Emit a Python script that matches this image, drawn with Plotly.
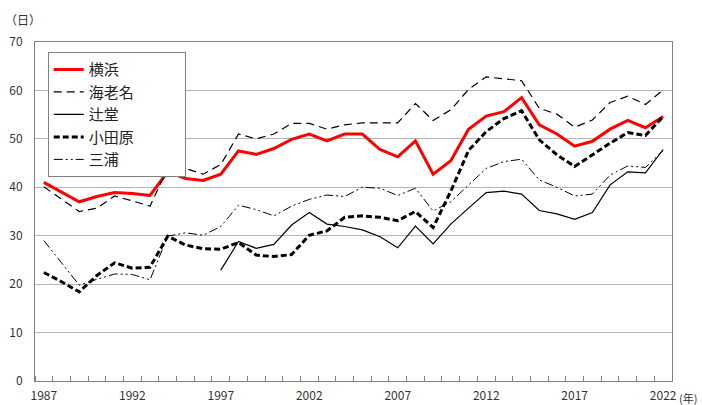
import plotly.graph_objects as go

years = list(range(1987, 2023))

yokohama = [41.0, 39.0, 37.0, 38.1, 38.9, 38.7, 38.3, 43.2, 41.8, 41.4, 42.7, 47.5,
            46.8, 48.0, 49.9, 51.0, 49.6, 51.0, 51.0, 47.8, 46.3, 49.6, 42.7, 45.5,
            52.0, 54.7, 55.6, 58.5, 52.9, 51.0, 48.5, 49.5, 52.0, 53.8, 52.3, 54.6]
ebina = [40.1, 37.5, 35.0, 35.7, 38.2, 37.2, 36.1, 43.9, 43.9, 42.7, 44.7, 51.0,
         50.0, 51.0, 53.2, 53.2, 52.0, 52.9, 53.3, 53.3, 53.3, 57.3, 53.8, 56.0,
         60.2, 62.8, 62.4, 62.0, 56.3, 55.1, 52.4, 53.9, 57.5, 58.8, 57.1, 60.1]
tsujido = [None] * 10 + [22.9, 28.8, 27.4, 28.2, 32.2, 34.8, 32.4, 31.9, 31.2, 29.8,
                         27.5, 32.0, 28.3, 32.4, 35.7, 38.9, 39.2, 38.6, 35.2, 34.5,
                         33.4, 34.8, 40.5, 43.2, 43.0, 47.8]
odawara = [22.4, 20.5, 18.4, 21.8, 24.4, 23.3, 23.5, 29.9, 28.1, 27.3, 27.2, 28.6,
           26.0, 25.7, 26.1, 30.1, 31.0, 33.8, 34.1, 33.8, 33.1, 35.0, 31.7, 39.2,
           47.6, 51.5, 54.2, 55.8, 49.8, 46.7, 44.3, 46.7, 49.1, 51.3, 50.7, 54.6]
miura = [29.0, 24.4, 19.8, 21.0, 22.1, 22.0, 20.9, 29.9, 30.6, 30.1, 31.9, 36.3,
         35.4, 34.1, 36.1, 37.5, 38.4, 38.1, 40.0, 39.8, 38.3, 39.8, 35.1, 37.0,
         40.5, 43.9, 45.3, 45.8, 41.5, 40.0, 38.2, 38.6, 42.5, 44.4, 44.1, 47.6]

tick_years = [1987, 1992, 1997, 2002, 2007, 2012, 2017, 2022]
tick_labels = [str(y) for y in tick_years]
y_ticks = [0, 10, 20, 30, 40, 50, 60, 70]

font_family = "Noto Sans CJK JP, Noto Sans, sans-serif"
pad = "\u00a0" * 18

fig = go.Figure()
fig.add_trace(go.Scatter(x=years, y=yokohama, name="横浜" + pad, mode="lines",
                         line=dict(color="#ff0000", width=3)))
fig.add_trace(go.Scatter(x=years, y=ebina, name="海老名", mode="lines",
                         line=dict(color="#000000", width=1.2, dash="8px,5px")))
fig.add_trace(go.Scatter(x=years, y=tsujido, name="辻堂", mode="lines",
                         line=dict(color="#000000", width=1.2)))
fig.add_trace(go.Scatter(x=years, y=odawara, name="小田原", mode="lines",
                         line=dict(color="#000000", width=3, dash="6px,3px")))
fig.add_trace(go.Scatter(x=years, y=miura, name="三浦", mode="lines",
                         line=dict(color="#000000", width=1,
                                   dash="9px,3px,2px,3px,2px,3px")))

fig.update_layout(
    width=702, height=405,
    margin=dict(l=35, r=30, t=42, b=24),
    paper_bgcolor="white", plot_bgcolor="white",
    font=dict(family=font_family, size=12, color="#333333"),
    legend=dict(x=0.02, y=0.97, xanchor="left", yanchor="top",
                bgcolor="white", bordercolor="#808080", borderwidth=1,
                font=dict(size=15, color="#222222"),
                tracegroupgap=0, itemwidth=30),
    xaxis=dict(range=[1986.5, 2022.5], tickmode="array", tickvals=tick_years,
               ticktext=tick_labels, ticks="", showgrid=False, automargin=False,
               showline=True, linecolor="#808080", linewidth=1, mirror=True,
               zeroline=False, ticklabelstandoff=4,
               minor=dict(tickmode="linear", tick0=0.5, dtick=1, ticks="inside",
                          ticklen=5, tickcolor="#808080", showgrid=False)),
    yaxis=dict(range=[0, 70], tickvals=y_ticks, showgrid=True, automargin=False,
               gridcolor="#b4b4b4", gridwidth=1, showline=True,
               linecolor="#808080", linewidth=1, mirror=True, zeroline=False,
               ticks="", ticklabelstandoff=9),
    annotations=[
        dict(text="（日）", x=0.0, y=1.0, xref="paper", yref="paper",
             xanchor="right", yanchor="bottom", xshift=8, yshift=12,
             showarrow=False, font=dict(size=12, color="#333333")),
        dict(text="(年)", x=1.0, y=0.0, xref="paper", yref="paper",
             xanchor="left", yanchor="middle", xshift=5, yshift=-17,
             showarrow=False, font=dict(size=11, color="#333333")),
    ],
)

fig.write_html(
    "out.html",
    config={"displayModeBar": False},
    post_script="document.body.style.margin='0px';"
                "document.body.style.overflow='hidden';",
)
